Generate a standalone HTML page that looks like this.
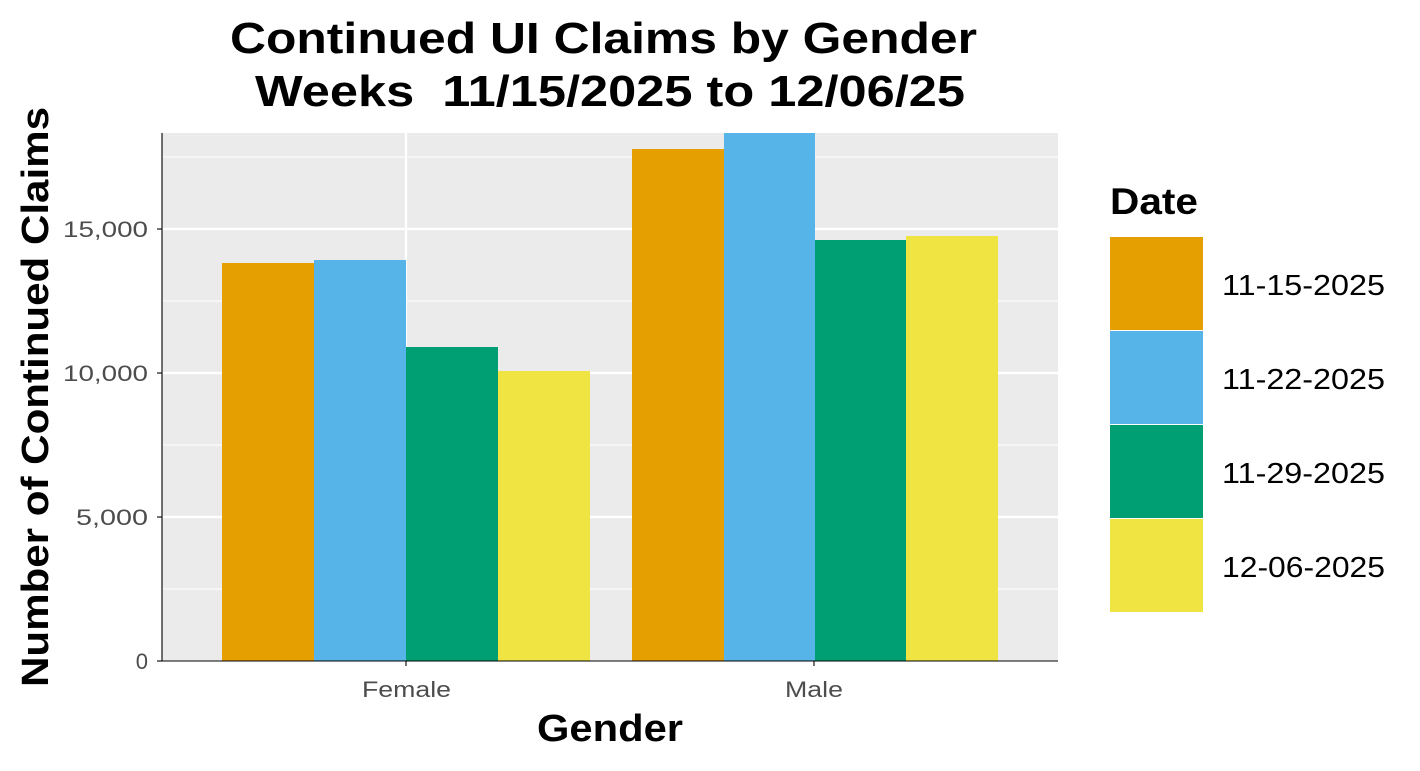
<!DOCTYPE html>
<html><head><meta charset="utf-8"><style>body{margin:0;background:#fff}</style></head><body>
<svg width="1420" height="766" xmlns="http://www.w3.org/2000/svg" font-family="Liberation Sans, Arial, sans-serif">
<rect width="1420" height="766" fill="#fff"/>
<rect x="162" y="133" width="896" height="528" fill="#ebebeb"/>
<g stroke="#fff" stroke-width="1.1">
<line x1="162" x2="1058" y1="589" y2="589"/><line x1="162" x2="1058" y1="445" y2="445"/><line x1="162" x2="1058" y1="301" y2="301"/><line x1="162" x2="1058" y1="157" y2="157"/>
</g>
<g stroke="#fff" stroke-width="2.2">
<line x1="162" x2="1058" y1="517" y2="517"/><line x1="162" x2="1058" y1="373" y2="373"/><line x1="162" x2="1058" y1="229" y2="229"/>
<line x1="406" x2="406" y1="133" y2="661"/><line x1="814" x2="814" y1="133" y2="661"/>
</g>
<rect x="222" y="263" width="92" height="398" fill="#e69f00"/>
<rect x="314" y="260" width="92" height="401" fill="#56b4e9"/>
<rect x="406" y="347" width="92" height="314" fill="#009e73"/>
<rect x="498" y="371" width="92" height="290" fill="#f0e442"/>
<rect x="632" y="149" width="92" height="512" fill="#e69f00"/>
<rect x="724" y="133" width="91" height="528" fill="#56b4e9"/>
<rect x="815" y="240" width="91" height="421" fill="#009e73"/>
<rect x="906" y="236" width="92" height="425" fill="#f0e442"/>
<g stroke="#000" stroke-width="1.1">
<line x1="162" x2="162" y1="133" y2="661"/><line x1="162" x2="1058" y1="661" y2="661"/>
<line x1="157" x2="162" y1="661" y2="661"/><line x1="157" x2="162" y1="517" y2="517"/><line x1="157" x2="162" y1="373" y2="373"/><line x1="157" x2="162" y1="229" y2="229"/>
<line x1="406" x2="406" y1="661" y2="666"/><line x1="814" x2="814" y1="661" y2="666"/>
</g>
<g font-size="22" fill="#4d4d4d" text-anchor="end">
<text x="148" y="669">0</text><text x="148" y="525" textLength="72" lengthAdjust="spacingAndGlyphs">5,000</text><text x="148" y="381" textLength="85" lengthAdjust="spacingAndGlyphs">10,000</text><text x="148" y="237" textLength="85" lengthAdjust="spacingAndGlyphs">15,000</text>
</g>
<g font-size="22" fill="#4d4d4d">
<text x="362" y="697" textLength="89" lengthAdjust="spacingAndGlyphs">Female</text><text x="785" y="697" textLength="58" lengthAdjust="spacingAndGlyphs">Male</text>
</g>
<text x="537" y="741" font-size="38" font-weight="bold" textLength="146" lengthAdjust="spacingAndGlyphs">Gender</text>
<text transform="translate(48,687) rotate(-90)" font-size="38" font-weight="bold" textLength="580" lengthAdjust="spacingAndGlyphs">Number of Continued Claims</text>
<text x="230" y="53" font-size="44" font-weight="bold" textLength="747" lengthAdjust="spacingAndGlyphs">Continued UI Claims by Gender</text>
<text x="255" y="106" font-size="44" font-weight="bold" textLength="710" lengthAdjust="spacingAndGlyphs" xml:space="preserve">Weeks  11/15/2025 to 12/06/25</text>
<text x="1110" y="214" font-size="37" font-weight="bold" textLength="88" lengthAdjust="spacingAndGlyphs">Date</text>
<rect x="1110" y="237" width="93" height="93" fill="#e69f00"/>
<rect x="1110" y="331" width="93" height="93" fill="#56b4e9"/>
<rect x="1110" y="425" width="93" height="93" fill="#009e73"/>
<rect x="1110" y="519" width="93" height="93" fill="#f0e442"/>
<g font-size="29">
<text x="1222" y="295" textLength="163" lengthAdjust="spacingAndGlyphs">11-15-2025</text><text x="1222" y="389" textLength="163" lengthAdjust="spacingAndGlyphs">11-22-2025</text><text x="1222" y="483" textLength="163" lengthAdjust="spacingAndGlyphs">11-29-2025</text><text x="1222" y="577" textLength="163" lengthAdjust="spacingAndGlyphs">12-06-2025</text>
</g>
</svg>
</body></html>
